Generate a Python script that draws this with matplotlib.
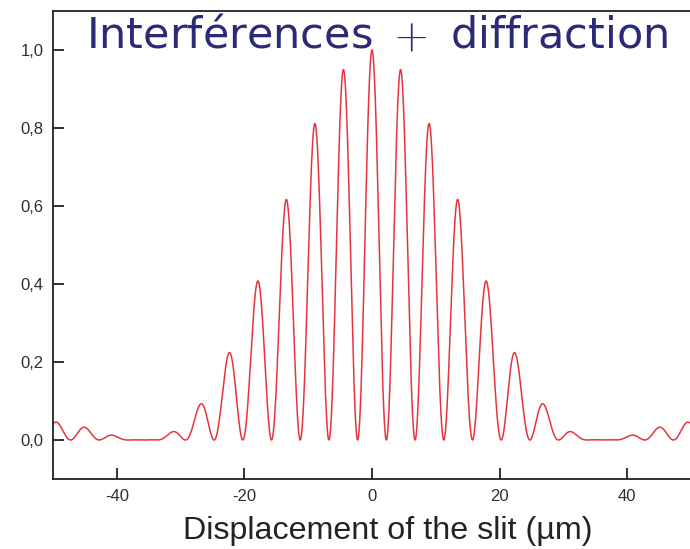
import numpy as np
import matplotlib.pyplot as plt

plt.rcParams["mathtext.fontset"] = "cm"

# Two-slit pattern: cos^2 fringes under a single-slit sinc^2 envelope
fringe_period_um = 4.5      # spacing between bright fringes
envelope_zero_um = 36.0     # first zero of the diffraction envelope
peak_intensity = 1.0

x_ticks = [-40, -20, 0, 20, 40]
y_ticks = [0.0, 0.2, 0.4, 0.6, 0.8, 1.0]
y_tick_labels = ["0,0", "0,2", "0,4", "0,6", "0,8", "1,0"]

x = np.linspace(-50, 50, 4001)
intensity = (peak_intensity
             * np.sinc(x / envelope_zero_um) ** 2
             * np.cos(np.pi * x / fringe_period_um) ** 2)

fig = plt.figure(figsize=(6.9, 5.49), dpi=100)
ax = fig.add_axes([53 / 690, 70 / 549, 638 / 690, 468 / 549])

ax.plot(x, intensity, color="#e6343f", lw=1.1)

ax.set_xlim(-50, 50)
ax.set_ylim(-0.1, 1.1)
ax.set_xticks(x_ticks)
ax.set_xticklabels([str(t) for t in x_ticks])
ax.set_yticks(y_ticks)
ax.set_yticklabels(y_tick_labels)

ax.spines["right"].set_visible(False)
for side in ["left", "bottom", "top"]:
    ax.spines[side].set_linewidth(1.3)
    ax.spines[side].set_color("#222222")
ax.tick_params(direction="in", length=8, width=1.3, color="#222222",
               labelsize=12, pad=7)
for lab in ax.get_xticklabels() + ax.get_yticklabels():
    lab.set_fontfamily("Liberation Sans")
    lab.set_color("#2e2e38")

ax.set_xlabel("Displacement of the slit (\u00b5m)", fontsize=23.2,
              fontfamily="Liberation Sans", color="#222228")
ax.xaxis.label.set_verticalalignment("baseline")
ax.xaxis.set_label_coords((388 - 53) / 638, (479 - 539) / 468)

fig.text(377.5 / 690, 1 - 48 / 549,
         "Interf\u00e9rences\u2009 $+$ \u2009diffraction",
         fontsize=31, color="#2b2a78", ha="center", va="baseline",
         fontfamily="DejaVu Sans")

fig.savefig("out.png", dpi=100)
